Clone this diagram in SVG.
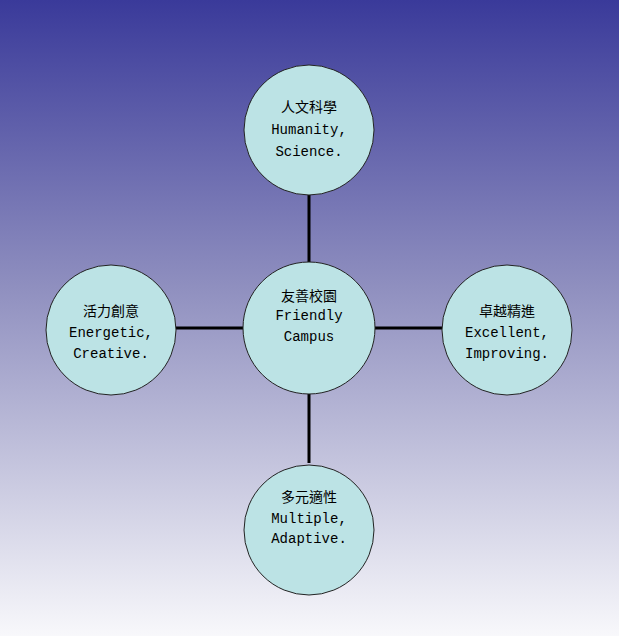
<svg xmlns="http://www.w3.org/2000/svg" width="619" height="636" viewBox="0 0 619 636">
<defs>
<linearGradient id="bg" x1="0" y1="0" x2="0" y2="1">
<stop offset="0" stop-color="#3a3a9a"/>
<stop offset="0.45" stop-color="#8f8fbf"/>
<stop offset="1" stop-color="#f8f8fb"/>
</linearGradient>
<style>
.n{fill:#bce3e5;stroke:#222;stroke-width:1}
.t{font-family:"Liberation Mono","Noto Sans CJK TC",monospace;font-size:14px;fill:#000;text-anchor:middle}
.c{stroke:#000;stroke-width:3}
</style>
</defs>
<rect width="619" height="636" fill="url(#bg)"/>
<g id="connectors">
<line class="c" x1="309" y1="195" x2="309" y2="262"/>
<line class="c" x1="309" y1="394" x2="309" y2="463"/>
<line class="c" x1="176" y1="328" x2="243" y2="328"/>
<line class="c" x1="375" y1="328" x2="442" y2="328"/>
</g>
<g id="top"><circle class="n" cx="309" cy="130" r="65"/>
<text class="t" x="309" y="112">人文科學</text><text class="t" x="309" y="134">Humanity,</text><text class="t" x="309" y="156">Science.</text></g>
<g id="center"><circle class="n" cx="309" cy="328" r="66"/>
<text class="t" x="309" y="301">友善校園</text><text class="t" x="309" y="320">Friendly</text><text class="t" x="309" y="341">Campus</text></g>
<g id="left"><circle class="n" cx="111" cy="330" r="65"/>
<text class="t" x="111" y="316">活力創意</text><text class="t" x="111" y="337">Energetic,</text><text class="t" x="111" y="358">Creative.</text></g>
<g id="right"><circle class="n" cx="507" cy="330" r="65"/>
<text class="t" x="507" y="316">卓越精進</text><text class="t" x="507" y="337">Excellent,</text><text class="t" x="507" y="358">Improving.</text></g>
<g id="bottom"><circle class="n" cx="309" cy="530" r="65"/>
<text class="t" x="309" y="502">多元適性</text><text class="t" x="309" y="523">Multiple,</text><text class="t" x="309" y="543">Adaptive.</text></g>
</svg>
